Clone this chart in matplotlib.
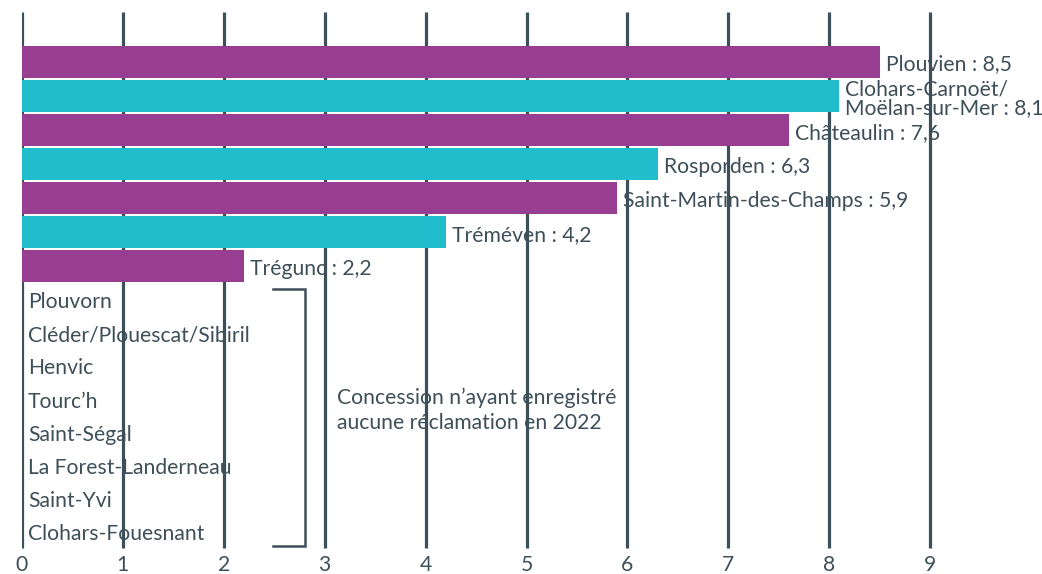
import matplotlib
matplotlib.use("Agg")
import matplotlib.pyplot as plt

plt.rcParams['font.family'] = ['Lato', 'DejaVu Sans']

names = ["Plouvien", "Clohars-Carnoët/\nMoëlan-sur-Mer", "Châteaulin", "Rosporden",
         "Saint-Martin-des-Champs", "Tréméven", "Trégunc"]
values = [8.5, 8.1, 7.6, 6.3, 5.9, 4.2, 2.2]
value_labels = ["8,5", "8,1", "7,6", "6,3", "5,9", "4,2", "2,2"]
bar_colors = ["#973e93", "#21bdcd", "#973e93", "#21bdcd", "#973e93", "#21bdcd", "#973e93"]
zero_names = ["Plouvorn", "Cléder/Plouescat/Sibiril", "Henvic", "Tourc’h", "Saint-Ségal",
              "La Forest-Landerneau", "Saint-Yvi", "Clohars-Fouesnant"]
note = "Concession n’ayant enregistré\naucune réclamation en 2022"
ticks = list(range(10))

W, H = 1042, 574
fig = plt.figure(figsize=(W / 100, H / 100), dpi=100)
x0 = 22
ppu = 100.9
ax = fig.add_axes([x0 / W, 0, (W - x0) / W, 1])
ax.set_xlim(0, (W - x0) / ppu)
ax.set_ylim(H, 0)
ax.axis("off")

dark = "#3d4f58"
fs = 15.2
# gridlines
ax.vlines(ticks, 12, 548, color=dark, lw=2.3, zorder=1)
for t in ticks:
    ax.text(t, 565, str(t), ha="center", va="center", fontsize=fs, color=dark)

# bars
bar_h = 32
pitch = 34.1
for i, (n, v, vl, c) in enumerate(zip(names, values, value_labels, bar_colors)):
    yc = 61.5 + i * pitch
    ax.barh(yc, v, height=bar_h, color=c, zorder=2)
    ax.text(v + 0.06, yc + 3, f"{n} : {vl}", ha="left", va="center", fontsize=fs,
            color=dark, zorder=3, linespacing=0.95)

# zero-complaint list
for j, n in enumerate(zero_names):
    ax.text(6 / ppu, 302 + j * 33.2, n, ha="left", va="center", fontsize=fs, color=dark, zorder=3)

# bracket
bx0, bx1 = (273 - x0) / ppu, (305 - x0) / ppu
ax.plot([bx0, bx1, bx1, bx0], [289, 289, 546, 546], color=dark, lw=1.8, zorder=3,
        solid_joinstyle="miter")

ax.text((337 - x0) / ppu, 410, note, ha="left", va="center", fontsize=fs, color=dark,
        linespacing=1.3, zorder=3)

fig.savefig("out.png", dpi=100)
